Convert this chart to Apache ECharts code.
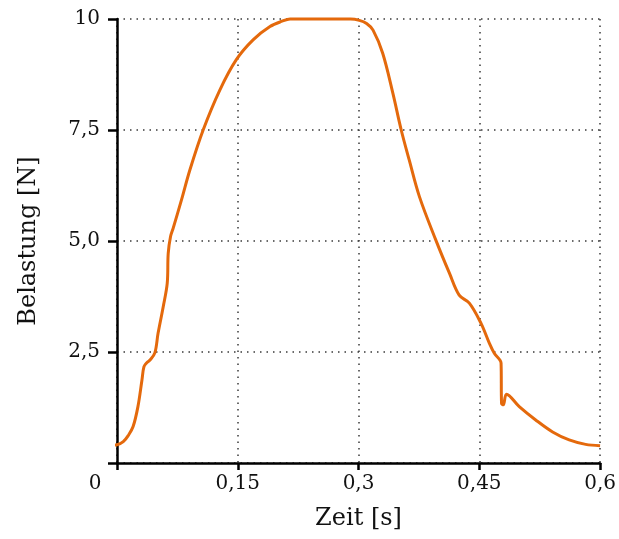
<!DOCTYPE html>
<html>
<head>
<meta charset="utf-8">
<script src="https://cdn.jsdelivr.net/npm/echarts@6/dist/echarts.min.js"></script>
<style>
  html, body { margin: 0; padding: 0; background: #ffffff; }
  #chart { width: 619px; height: 539px; }
</style>
</head>
<body>
<div id="chart"></div>
<script>
// Load curve: time in seconds, load in newtons
const timeValues = [
  -0.0066, 0.0, 0.0078, 0.014, 0.020, 0.026, 0.031, 0.0335, 0.037, 0.041,
  0.047, 0.051, 0.0574, 0.0624, 0.0636, 0.0665, 0.0698, 0.080, 0.0905, 0.107,
  0.1277, 0.148, 0.169, 0.190, 0.205, 0.215, 0.25, 0.29, 0.301, 0.310,
  0.318, 0.330, 0.3426, 0.353, 0.363, 0.3756, 0.396, 0.413, 0.425, 0.4376,
  0.452, 0.4624, 0.4686, 0.477, 0.4776, 0.4798, 0.4838, 0.4996, 0.520, 0.541,
  0.5616, 0.582, 0.6
];
const loadValues = [
  0.40, 0.41, 0.48, 0.62, 0.82, 1.27, 1.87, 2.17, 2.26, 2.32,
  2.48, 2.92, 3.52, 4.05, 4.72, 5.10, 5.29, 5.92, 6.60, 7.50,
  8.40, 9.08, 9.53, 9.83, 9.95, 10.0, 10.0, 10.0, 9.97, 9.90,
  9.75, 9.23, 8.33, 7.50, 6.82, 6.00, 5.02, 4.27, 3.78, 3.60,
  3.15, 2.70, 2.47, 2.25, 1.34, 1.31, 1.55, 1.27, 0.97, 0.70,
  0.52, 0.42, 0.39
];

// Tick values and their printed labels (decimal comma)
const xTicks = [0, 0.15, 0.3, 0.45, 0.6];
const xTickLabels = ['0', '0,15', '0,3', '0,45', '0,6'];
const yTicks = [0, 2.5, 5, 7.5, 10];
const yTickLabels = ['', '2,5', '5,0', '7,5', '10'];

const xAxisName = 'Zeit [s]';
const yAxisName = 'Belastung [N]';

function labelFor(ticks, labels, v) {
  for (let i = 0; i < ticks.length; i++) {
    if (Math.abs(ticks[i] - v) < 1e-6) return labels[i];
  }
  return '';
}

const seriesData = timeValues.map((t, i) => [t, loadValues[i]]);

const serif = 'DejaVu Serif';
const gridLine = { show: true, lineStyle: { color: '#3a3a3a', width: 1.5, type: [1.5, 5] } };

const chart = echarts.init(document.getElementById('chart'), null, { renderer: 'canvas' });
chart.setOption({
  backgroundColor: '#ffffff',
  animation: false,
  grid: { left: 117, right: 18, top: 19, bottom: 76, containLabel: false },
  xAxis: {
    type: 'value',
    min: 0,
    max: 0.6,
    interval: 0.15,
    name: xAxisName,
    nameLocation: 'middle',
    nameGap: 44,
    nameTextStyle: { fontFamily: serif, fontSize: 24, color: '#111' },
    axisLine: { show: true, onZero: false, lineStyle: { color: '#000', width: 2.5 } },
    axisTick: { show: true, length: 7, lineStyle: { color: '#000', width: 2.5 } },
    axisLabel: {
      margin: 11,
      fontFamily: serif,
      fontSize: 20,
      color: '#111',
      formatter: function (v) {
        const s = labelFor(xTicks, xTickLabels, v);
        return v === 0 ? '{z|' + s + '}' : s;
      },
      rich: { z: { fontFamily: serif, fontSize: 20, color: '#111', padding: [0, 44, 0, 0] } }
    },
    splitLine: gridLine
  },
  yAxis: {
    type: 'value',
    min: 0,
    max: 10,
    interval: 2.5,
    name: yAxisName,
    nameLocation: 'middle',
    nameGap: 76,
    nameTextStyle: { fontFamily: serif, fontSize: 24, color: '#111' },
    axisLine: { show: true, onZero: false, lineStyle: { color: '#000', width: 2.5 } },
    axisTick: { show: true, length: 9, lineStyle: { color: '#000', width: 2.5 } },
    axisLabel: {
      margin: 17,
      fontFamily: serif,
      fontSize: 20,
      color: '#111',
      formatter: function (v) { return labelFor(yTicks, yTickLabels, v); }
    },
    splitLine: gridLine
  },
  series: [{
    type: 'line',
    data: seriesData,
    clip: false,
    showSymbol: false,
    smooth: 0.35,
    lineStyle: { color: '#e4690c', width: 3 },
    z: 5
  }]
});
</script>
</body>
</html>
